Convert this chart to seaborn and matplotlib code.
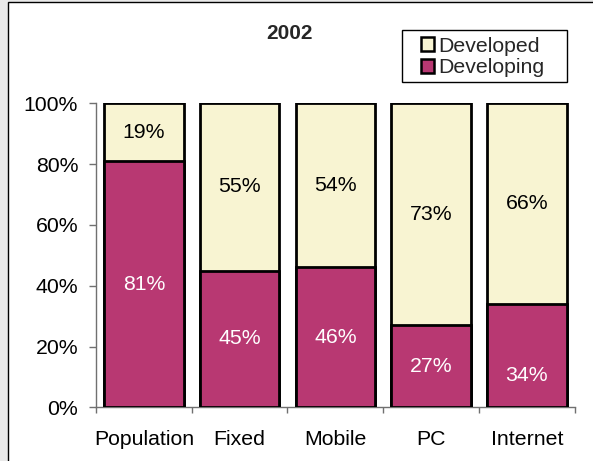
import matplotlib
matplotlib.use("Agg")
import matplotlib.pyplot as plt
from matplotlib.patches import Rectangle, Patch
import seaborn as sns
import pandas as pd

# Share of each indicator held by developed vs developing economies, 2002
categories = ["Population", "Fixed", "Mobile", "PC", "Internet"]
developing = [81, 45, 46, 27, 34]
developed = [19, 55, 54, 73, 66]
yticks = [0, 20, 40, 60, 80, 100]
title = "2002"

DEV_COLOR = "#F8F4D2"
DEVING_COLOR = "#B83872"
AXIS_GRAY = "#707070"
FS = 15.3

sns.set_style("white")
plt.rcParams["font.family"] = ["Liberation Sans", "DejaVu Sans"]
plt.rcParams["font.size"] = FS

W, H = 593, 461
fig = plt.figure(figsize=(W / 100, H / 100), dpi=100, facecolor="#e9e9e9")

# white chart area with a thin black frame
fig.add_artist(Rectangle((8 / W, -0.01), 1.0, 1 - 2 / H + 0.01,
                         transform=fig.transFigure, facecolor="white",
                         edgecolor="black", linewidth=1, zorder=0))

ax = fig.add_axes([96 / W, 1 - 407.3 / H, (574.7 - 96) / W, (407.3 - 103.3) / H])
ax.set_facecolor("none")

df = pd.DataFrame({"category": categories,
                   "developing": developing,
                   "developed": developed})
df["total"] = df["developing"] + df["developed"]

# stacked bars: the full-height bar shows the developed share on top
sns.barplot(data=df, x="category", y="total", color=DEV_COLOR, saturation=1,
            width=0.83, edgecolor="black", linewidth=2, ax=ax, zorder=2)
sns.barplot(data=df, x="category", y="developing", color=DEVING_COLOR, saturation=1,
            width=0.83, edgecolor="black", linewidth=2, ax=ax, zorder=3)

# value labels centred in each segment
label_shift = {4: -14}
for i, (d, u) in enumerate(zip(developing, developed)):
    ax.annotate(f"{d}%", (i, d / 2), xytext=(0, label_shift.get(i, 0)),
                textcoords="offset points", ha="center", va="center",
                color="white", fontsize=FS, zorder=5)
    ax.annotate(f"{u}%", (i, d + u / 2), ha="center", va="center",
                color="black", fontsize=FS, zorder=5)

ax.set_xlim(-0.5, len(categories) - 0.5)
ax.set_ylim(0, 100)
ax.set_yticks(yticks)
ax.set_yticklabels([f"{v}%" for v in yticks])
ax.set_xlabel("")
ax.set_ylabel("")

ax.set_xticks(range(len(categories)))
ax.set_xticklabels(categories)
ax.set_xticks([i - 0.5 for i in range(len(categories) + 1)], minor=True)
ax.tick_params(axis="x", which="major", length=0, pad=16, colors="black")
ax.tick_params(axis="x", which="minor", length=4.5, width=1, color=AXIS_GRAY,
               direction="out", bottom=True)
ax.tick_params(axis="y", which="major", length=4.8, width=1, color=AXIS_GRAY,
               direction="out", left=True, pad=8, labelcolor="black")

for side in ("top", "right"):
    ax.spines[side].set_visible(False)
for side in ("left", "bottom"):
    ax.spines[side].set_visible(True)
    ax.spines[side].set_color(AXIS_GRAY)
    ax.spines[side].set_linewidth(1)

fig.text(289.5 / W, 1 - 33.5 / H, title, ha="center", va="center",
         fontsize=15, fontweight="bold")

# legend box with its entries
fig.add_artist(Rectangle((402 / W, 1 - 82 / H), (567 - 402) / W, 52 / H,
                         transform=fig.transFigure, facecolor="white",
                         edgecolor="black", linewidth=1, zorder=4))
handles = [Patch(facecolor=DEV_COLOR, edgecolor="black", linewidth=1.8, label="Developed"),
           Patch(facecolor=DEVING_COLOR, edgecolor="black", linewidth=1.8, label="Developing")]
leg = fig.legend(handles=handles, loc="upper left",
                 bbox_to_anchor=(421 / W, 1 - 36.5 / H), frameon=False,
                 handlelength=0.62, handleheight=0.6, handletextpad=0.2,
                 borderpad=0, labelspacing=0.14, borderaxespad=0, fontsize=FS)
leg.set_zorder(5)

fig.savefig("out.png", dpi=100, facecolor=fig.get_facecolor())
